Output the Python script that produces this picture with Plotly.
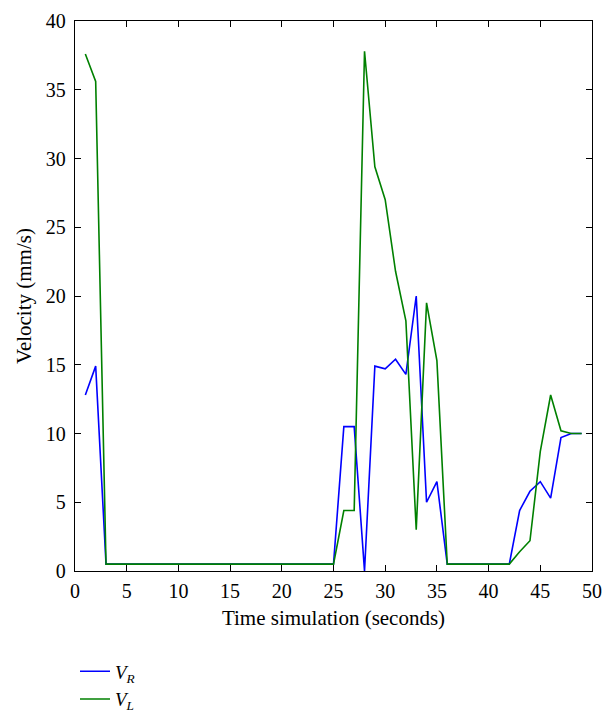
import plotly.graph_objects as go

time_s = list(range(1, 50))
v_r = [12.8, 14.9] + [0.5] * 23 + [10.5, 10.5, 0.0, 14.9, 14.7, 15.4, 14.3, 20.0, 5.0, 6.5] + [0.5] * 7 + [4.4, 5.8, 6.5, 5.3, 9.7, 10.0, 10.0]
v_l = [37.6, 35.6] + [0.5] * 23 + [4.4, 4.4, 37.8, 29.4, 27.0, 21.8, 18.2, 3.0, 19.5, 15.3] + [0.5] * 7 + [1.4, 2.2, 8.7, 12.8, 10.2, 10.0, 10.0]

x_ticks = [0, 5, 10, 15, 20, 25, 30, 35, 40, 45, 50]
y_ticks = [0, 5, 10, 15, 20, 25, 30, 35, 40]

FONT = "Liberation Serif"

fig = go.Figure()
fig.add_trace(go.Scatter(x=time_s, y=v_r, mode="lines", name="<i>V</i><sub><i>R</i></sub>",
                         line=dict(color="#0000ff", width=1.6)))
fig.add_trace(go.Scatter(x=time_s, y=v_l, mode="lines", name="<i>V</i><sub><i>L</i></sub>",
                         line=dict(color="#008000", width=1.6)))

axis_common = dict(showgrid=False, zeroline=False, showline=True, linecolor="black", linewidth=1.3,
                   mirror="ticks", ticks="inside", ticklen=6, tickcolor="black", automargin=False,
                   tickfont=dict(family=FONT, size=20, color="black"))

fig.update_layout(
    width=608, height=719,
    margin=dict(l=67, r=24, t=13, b=156, autoexpand=False),
    paper_bgcolor="white", plot_bgcolor="white",
    font=dict(family=FONT, size=20, color="black"),
    xaxis=dict(range=[0, 50], tickvals=x_ticks, ticklabelstandoff=2,
               title=dict(text="Time simulation (seconds)", font=dict(family=FONT, size=21), standoff=9),
               **axis_common),
    yaxis=dict(range=[0, 40], tickvals=y_ticks, ticklabelstandoff=4,
               title=dict(text="Velocity (mm/s)", font=dict(family=FONT, size=21), standoff=8),
               **axis_common),
    legend=dict(x=0.0, y=-0.148, xanchor="left", yanchor="top", bgcolor="rgba(0,0,0,0)",
                font=dict(family=FONT, size=19), tracegroupgap=0, itemwidth=30),
    showlegend=True,
)

fig.write_html("out.html")
